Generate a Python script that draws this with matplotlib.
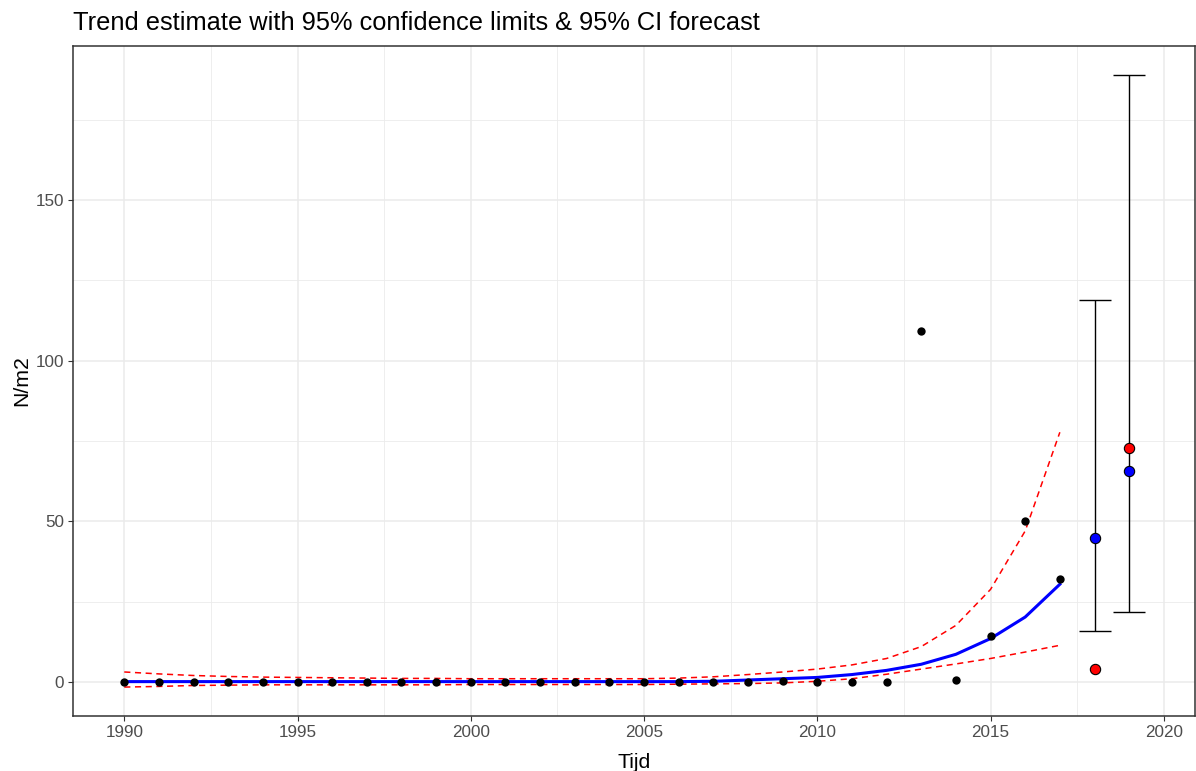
import matplotlib
matplotlib.use("Agg")
import matplotlib.pyplot as plt
import numpy as np

plt.rcParams['font.family'] = ['Liberation Sans', 'DejaVu Sans']

years = list(range(1990, 2018))
observed = [0.0, 0.0, 0.0, 0.0, 0.0, 0.0, 0.0, 0.0, 0.0, 0.0,
            0.0, 0.0, 0.0, 0.0, 0.0, 0.0, 0.0, 0.0, 0.0, 0.3,
            0.0, 0.0, 0.0, 109.3, 0.5, 14.3, 50.2, 32.1]
trend = [0.1, 0.1, 0.1, 0.1, 0.1, 0.1, 0.1, 0.1, 0.1, 0.1,
         0.1, 0.1, 0.1, 0.1, 0.1, 0.1, 0.1, 0.2, 0.6, 1.0,
         1.4, 2.3, 3.6, 5.5, 8.6, 13.5, 20.2, 30.4]
upper = [3.1, 2.5, 2.0, 1.7, 1.5, 1.4, 1.3, 1.2, 1.1, 1.1,
         1.0, 1.0, 1.0, 1.0, 1.0, 1.0, 1.2, 1.6, 2.3, 3.1,
         4.0, 5.3, 7.3, 11.0, 17.6, 28.8, 47.0, 77.7]
lower = [-1.6, -1.4, -1.1, -1.0, -0.9, -0.9, -0.9, -0.9, -0.9, -0.9,
         -0.8, -0.8, -0.8, -0.8, -0.8, -0.8, -0.7, -0.6, -0.5, -0.3,
         0.2, 1.0, 2.4, 4.0, 5.6, 7.3, 9.3, 11.4]

fc_years = [2018, 2019]
fc_mean = [44.9, 65.7]
fc_low = [15.9, 21.8]
fc_high = [119.0, 188.8]
fc_actual = [4.0, 72.9]

fig = plt.figure(figsize=(11.96, 7.71), dpi=100)
ax = fig.add_axes([73/1196, 1 - 716/771, (1195 - 73)/1196, (716 - 46)/771])

grid_c = '#EBEBEB'
ax.set_xlim(1988.52, 2020.9)
ax.set_ylim(-10.6, 197.9)
ax.set_xticks([1990, 1995, 2000, 2005, 2010, 2015, 2020])
ax.set_xticks([1992.5, 1997.5, 2002.5, 2007.5, 2012.5, 2017.5], minor=True)
ax.set_yticks([0, 50, 100, 150])
ax.set_yticks([25, 75, 125, 175], minor=True)
ax.grid(True, which='major', color=grid_c, linewidth=1.1, zorder=0)
ax.grid(True, which='minor', color=grid_c, linewidth=0.6, zorder=0)
ax.set_axisbelow(True)
ax.tick_params(which='minor', length=0)
ax.tick_params(which='major', length=3.6, width=0.8, color='#333333',
               labelcolor='#4D4D4D', labelsize=12.3, pad=3)
for s in ax.spines.values():
    s.set_color('#333333')
    s.set_linewidth(1.1)

ax.plot(years, upper, color='red', linestyle=(0, (4, 3)), linewidth=1.1, zorder=3)
ax.plot(years, lower, color='red', linestyle=(0, (4, 3)), linewidth=1.1, zorder=3)
ax.plot(years, trend, color='blue', linewidth=2.2, zorder=4)
ax.scatter(years, observed, s=36, color='black', zorder=5, linewidths=0)

ax.errorbar(fc_years, fc_mean, yerr=[np.array(fc_mean) - np.array(fc_low),
                                     np.array(fc_high) - np.array(fc_mean)],
            fmt='none', ecolor='black', elinewidth=1.0, capsize=11.2, capthick=1.0,
            zorder=4)
ax.scatter(fc_years, fc_mean, s=55, color='blue', edgecolors='black', linewidths=0.8, zorder=6)
ax.scatter(fc_years, fc_actual, s=55, color='red', edgecolors='black', linewidths=0.8, zorder=6)

ax.set_xlabel('Tijd', fontsize=15.3, color='black', labelpad=9)
ax.set_ylabel('N/m2', fontsize=15.3, color='black', labelpad=3)
fig.text(73/1196, 1 - 23/771, 'Trend estimate with 95% confidence limits & 95% CI forecast',
         fontsize=18.3, ha='left', va='center', color='black')

fig.savefig('out.png', dpi=100)
